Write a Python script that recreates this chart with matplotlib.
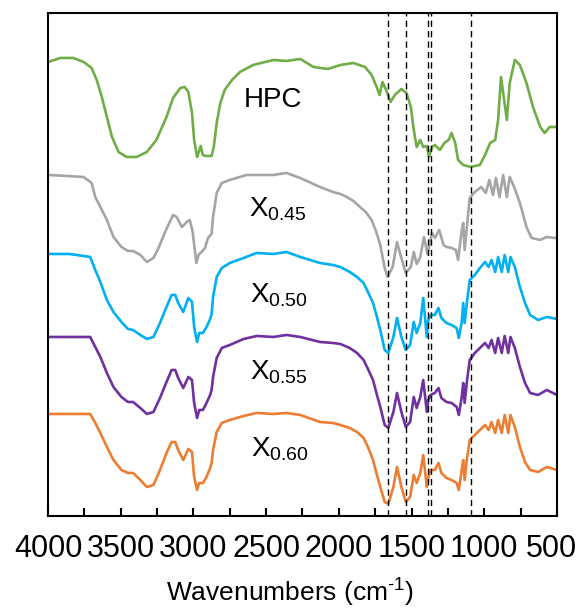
import matplotlib
matplotlib.use("Agg")
import matplotlib.pyplot as plt
from matplotlib.transforms import ScaledTranslation

plt.rcParams['font.family'] = ['Liberation Sans', 'DejaVu Sans']
plt.rcParams['mathtext.fontset'] = 'custom'
plt.rcParams['mathtext.rm'] = 'Liberation Sans'
plt.rcParams['mathtext.it'] = 'Liberation Sans:italic'

# stacked FTIR spectra, transmittance in a.u. (offsets already applied)
wn_hpc = [4000, 3915, 3825, 3755, 3700, 3665, 3630, 3595, 3560, 3515,
          3460, 3390, 3320, 3255, 3185, 3140, 3090, 3060, 3035, 3010,
          2995, 2975, 2965, 2950, 2935, 2915, 2875, 2860, 2840, 2815,
          2785, 2735, 2680, 2590, 2450, 2360, 2265, 2175, 2075, 1990,
          1900, 1820, 1775, 1740, 1720, 1700, 1675, 1645, 1615, 1570,
          1535, 1505, 1485, 1465, 1440, 1420, 1395, 1380, 1360, 1340,
          1305, 1275, 1245, 1225, 1200, 1180, 1145, 1095, 1030, 995,
          960, 925, 905, 885, 870, 845, 825, 790, 755, 710,
          665, 615, 585, 550, 500]
hpc = [4.54, 4.58, 4.58, 4.54, 4.48, 4.36, 4.19, 3.99, 3.79, 3.64,
       3.59, 3.59, 3.64, 3.76, 3.99, 4.18, 4.28, 4.29, 4.24, 4.03,
       3.76, 3.59, 3.63, 3.70, 3.61, 3.60, 3.60, 3.69, 3.93, 4.13,
       4.26, 4.36, 4.44, 4.51, 4.56, 4.55, 4.57, 4.49, 4.47, 4.51,
       4.53, 4.49, 4.41, 4.29, 4.21, 4.34, 4.26, 4.14, 4.21, 4.27,
       4.23, 4.09, 3.86, 3.69, 3.76, 3.69, 3.70, 3.59, 3.69, 3.71,
       3.66, 3.73, 3.76, 3.83, 3.73, 3.56, 3.51, 3.49, 3.51, 3.61,
       3.73, 3.76, 3.96, 4.39, 4.23, 3.96, 4.33, 4.56, 4.51, 4.33,
       4.09, 3.89, 3.83, 3.89, 3.89]

wn_x45 = [4000, 3870, 3755, 3700, 3675, 3640, 3595, 3550, 3495, 3450,
          3415, 3365, 3320, 3275, 3240, 3195, 3140, 3115, 3080, 3045,
          3025, 3005, 2980, 2965, 2945, 2920, 2900, 2875, 2865, 2840,
          2805, 2750, 2635, 2450, 2360, 2265,
          2130, 2040, 1990, 1945, 1900, 1855, 1815, 1775, 1745, 1715,
          1685, 1665, 1630, 1600, 1580, 1540, 1505, 1485, 1465, 1440,
          1415, 1390, 1360, 1340, 1310, 1280, 1260, 1225, 1195, 1180,
          1155, 1145, 1135, 1115, 1100, 1065, 1020, 990, 965, 940,
          920, 895, 870, 845, 825, 795, 755, 710, 675, 615,
          570, 515, 500]
x45 = [3.41, 3.40, 3.39, 3.33, 3.19, 3.09, 2.96, 2.79, 2.69, 2.65,
       2.65, 2.61, 2.54, 2.58, 2.68, 2.84, 3.01, 2.99, 2.89, 2.94,
       2.96, 2.84, 2.53, 2.61, 2.64, 2.68, 2.78, 2.82, 2.99, 3.23,
       3.33, 3.36, 3.41, 3.41, 3.43, 3.38,
       3.29, 3.24, 3.22, 3.19, 3.15, 3.09, 3.04, 2.96, 2.85, 2.71,
       2.48, 2.39, 2.49, 2.74, 2.63, 2.43, 2.49, 2.64, 2.52, 2.59,
       2.79, 2.62, 2.83, 2.78, 2.86, 2.71, 2.69, 2.68, 2.66, 2.56,
       2.86, 2.93, 2.66, 2.96, 3.18, 3.24, 3.29, 3.23, 3.36, 3.21,
       3.38, 3.19, 3.41, 3.19, 3.39, 3.29, 3.13, 2.89, 2.78, 2.76,
       2.79, 2.78, 2.78]

wn_x = [4000, 3850, 3710, 3675, 3640, 3595, 3550, 3495, 3450, 3415,
        3365, 3320, 3275, 3230, 3185, 3150, 3125, 3105, 3070, 3035,
        3010, 2995, 2975, 2960, 2935, 2910, 2885, 2875, 2865, 2840,
        2805, 2750, 2655, 2565, 2450, 2360, 2265,
        2130, 2040, 1990, 1925, 1875, 1830, 1800, 1765, 1740, 1715,
        1685, 1660, 1625, 1600, 1570, 1540, 1510, 1485, 1465, 1440,
        1420, 1395, 1385, 1370, 1340, 1315, 1295, 1260, 1225, 1190,
        1175, 1155, 1145, 1135, 1120, 1100, 1065, 1030, 995, 970,
        950, 925, 905, 880, 860, 835, 820, 790, 755, 720,
        685, 630, 570, 500]
x50 = [2.62, 2.62, 2.59, 2.46, 2.34, 2.16, 2.04, 1.94, 1.87, 1.86,
       1.81, 1.77, 1.79, 1.93, 2.09, 2.21, 2.21, 2.13, 2.04, 2.18,
       2.14, 1.89, 1.74, 1.83, 1.83, 1.89, 1.97, 2.02, 2.19, 2.39,
       2.48, 2.53, 2.58, 2.63, 2.62, 2.64, 2.59,
       2.53, 2.51, 2.49, 2.44, 2.39, 2.33, 2.24, 2.13, 2.00, 1.86,
       1.66, 1.63, 1.79, 1.98, 1.79, 1.66, 1.71, 1.94, 1.83, 1.93,
       2.18, 1.79, 1.96, 2.01, 2.01, 2.08, 1.98, 1.93, 1.91, 1.88,
       1.78, 1.94, 2.13, 1.93, 2.13, 2.36, 2.41, 2.48, 2.54, 2.49,
       2.56, 2.44, 2.59, 2.44, 2.61, 2.44, 2.59, 2.49, 2.29, 2.13,
       2.01, 1.96, 1.99, 1.97]
x55 = [1.79, 1.79, 1.79, 1.69, 1.59, 1.43, 1.29, 1.19, 1.14, 1.14,
       1.08, 1.02, 1.04, 1.18, 1.34, 1.46, 1.46, 1.38, 1.28, 1.39,
       1.36, 1.13, 0.98, 1.06, 1.06, 1.13, 1.21, 1.26, 1.39, 1.58,
       1.68, 1.71, 1.77, 1.80, 1.79, 1.81, 1.79,
       1.74, 1.73, 1.72, 1.68, 1.63, 1.56, 1.47, 1.36, 1.22, 1.09,
       0.91, 0.88, 1.04, 1.23, 1.04, 0.89, 0.94, 1.19, 1.08, 1.19,
       1.36, 1.04, 1.16, 1.21, 1.23, 1.28, 1.18, 1.14, 1.13, 1.09,
       1.01, 1.19, 1.33, 1.13, 1.34, 1.56, 1.63, 1.68, 1.73, 1.68,
       1.76, 1.63, 1.78, 1.63, 1.80, 1.63, 1.79, 1.68, 1.49, 1.33,
       1.23, 1.21, 1.26, 1.21]
x60 = [1.02, 1.02, 1.02, 0.93, 0.83, 0.69, 0.56, 0.46, 0.43, 0.43,
       0.36, 0.29, 0.31, 0.46, 0.63, 0.74, 0.74, 0.66, 0.56, 0.67,
       0.64, 0.39, 0.26, 0.33, 0.33, 0.39, 0.48, 0.53, 0.66, 0.84,
       0.93, 0.96, 1.00, 1.03, 1.02, 1.03, 1.01,
       0.94, 0.93, 0.91, 0.88, 0.84, 0.78, 0.69, 0.56, 0.42, 0.29,
       0.14, 0.12, 0.29, 0.49, 0.29, 0.14, 0.19, 0.41, 0.33, 0.43,
       0.61, 0.29, 0.38, 0.46, 0.46, 0.53, 0.43, 0.38, 0.36, 0.33,
       0.26, 0.46, 0.56, 0.36, 0.56, 0.76, 0.81, 0.86, 0.91, 0.86,
       0.94, 0.83, 0.96, 0.83, 1.01, 0.83, 1.01, 0.89, 0.69, 0.54,
       0.46, 0.44, 0.49, 0.46]

# marked bands
bands = [1660, 1535, 1390, 1368, 1090]

labels = ['HPC', r'X$_{\mathrm{0.45}}$', r'X$_{\mathrm{0.50}}$',
          r'X$_{\mathrm{0.55}}$', r'X$_{\mathrm{0.60}}$']
label_wn = [2655, 2620, 2612, 2612, 2605]
label_y = [4.09, 2.99, 2.13, 1.36, 0.59]

fig = plt.figure(figsize=(5.79, 6.12), dpi=100)
ax = fig.add_axes([0.0829, 0.1569, 0.8791, 0.8219])

series = [(wn_hpc, hpc, '#70AD47'), (wn_x45, x45, '#A5A5A5'),
          (wn_x, x50, '#00B0F0'), (wn_x, x55, '#7030A0'),
          (wn_x, x60, '#ED7D31')]
for wn, t, c in series:
    ax.plot(wn, t, color=c, lw=1.9, solid_joinstyle='round')

for b in bands:
    ax.axvline(b, color='black', lw=1.0, ls=(0, (4.5, 3)))

for lab, xw, yv in zip(labels, label_wn, label_y):
    ax.text(xw, yv, lab, fontsize=20, ha='left', va='baseline')

ax.set_xlim(4000, 500)
ax.set_ylim(0, 5.03)
ax.set_xticks(range(500, 4001, 500))
ax.set_xticks(range(750, 4000, 500), minor=True)
ax.tick_params(axis='x', which='both', direction='in', length=6, width=1.5,
               labelsize=22, pad=13)
ax.set_yticks([])
for s in ax.spines.values():
    s.set_linewidth(1.5)

# pull the "500" label in so it stays inside the figure
last = ax.xaxis.get_major_ticks()[0].label1
last.set_transform(last.get_transform()
                   + ScaledTranslation(-6 / 100, 0, fig.dpi_scale_trans))

ax.set_xlabel(r'Wavenumbers (cm$^{\text{-1}}$)', fontsize=19)
ax.xaxis.set_label_coords(0.4745, -0.121)

plt.savefig('out.png', dpi=100)
plt.close()
